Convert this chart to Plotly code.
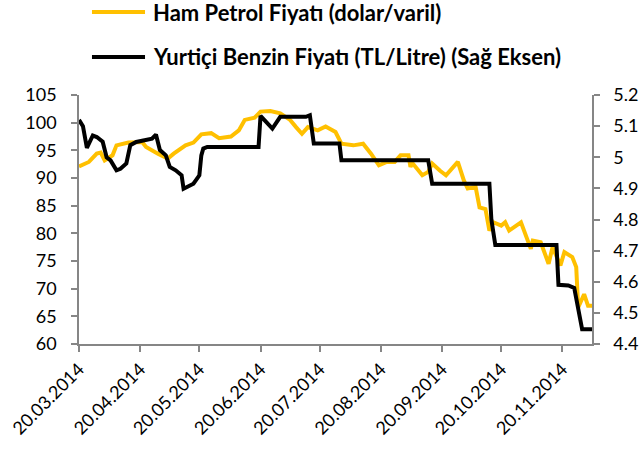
import plotly.graph_objects as go

# Ham Petrol Fiyatı (dolar/varil) - left axis
oil_dates = ["2014-03-20","2014-03-25","2014-03-29","2014-03-31","2014-04-02","2014-04-06","2014-04-08",
             "2014-04-14","2014-04-21","2014-04-23","2014-04-29","2014-05-04","2014-05-07","2014-05-13",
             "2014-05-17","2014-05-21","2014-05-26","2014-05-30","2014-06-05","2014-06-09","2014-06-12",
             "2014-06-17","2014-06-20","2014-06-25","2014-06-30","2014-07-05","2014-07-08","2014-07-11",
             "2014-07-14","2014-07-19","2014-07-23","2014-07-28","2014-07-31","2014-08-06","2014-08-11",
             "2014-08-15","2014-08-19","2014-08-23","2014-08-27","2014-08-30","2014-09-03","2014-09-04",
             "2014-09-05","2014-09-10","2014-09-13","2014-09-15","2014-09-19","2014-09-22","2014-09-28",
             "2014-10-01","2014-10-03","2014-10-07","2014-10-09","2014-10-12","2014-10-14","2014-10-16",
             "2014-10-20","2014-10-22","2014-10-24","2014-10-30","2014-11-04","2014-11-05","2014-11-09",
             "2014-11-13","2014-11-15","2014-11-19","2014-11-21","2014-11-25","2014-11-27","2014-11-28",
             "2014-12-01","2014-12-03","2014-12-05"]
oil_values = [92.1,92.9,94.4,94.6,93.2,94.1,95.9,
              96.4,96.5,95.6,94.4,93.5,94.4,95.9,
              96.4,97.9,98.1,97.2,97.5,98.6,100.5,
              100.9,102.0,102.1,101.7,100.5,99.2,98.0,
              99.2,98.6,99.3,98.3,96.2,95.9,96.2,
              94.4,92.3,92.9,92.9,94.1,94.1,92.0,
              92.7,90.5,91.1,92.6,91.3,90.5,92.9,
              89.6,88.1,88.4,84.7,84.4,80.5,82.0,
              81.4,82.0,80.5,82.0,77.2,78.7,78.4,
              74.5,77.5,74.2,76.6,75.7,73.9,66.6,
              69.0,66.9,66.9]

# Yurtiçi Benzin Fiyatı (TL/Litre) - right axis
fuel_dates = ["2014-03-20","2014-03-22","2014-03-24","2014-03-27","2014-03-29","2014-04-01","2014-04-03",
              "2014-04-05","2014-04-08","2014-04-10","2014-04-13","2014-04-15","2014-04-18","2014-04-23",
              "2014-04-26","2014-04-28","2014-04-30","2014-05-03","2014-05-05","2014-05-08","2014-05-11",
              "2014-05-12","2014-05-15","2014-05-17","2014-05-20","2014-05-21","2014-05-22","2014-05-24",
              "2014-06-19","2014-06-20","2014-06-26","2014-06-30","2014-07-13","2014-07-15","2014-07-17",
              "2014-07-30","2014-07-31","2014-09-13","2014-09-15","2014-10-14","2014-10-15","2014-10-17",
              "2014-11-17","2014-11-18","2014-11-23","2014-11-26","2014-11-30","2014-12-05"]
fuel_values = [5.12,5.10,5.03,5.07,5.065,5.05,5.00,
               4.99,4.958,4.963,4.98,5.039,5.049,5.055,
               5.06,5.073,5.023,5.006,4.969,4.958,4.942,
               4.899,4.91,4.915,4.942,5.006,5.028,5.033,
               5.033,5.133,5.092,5.13,5.13,5.135,5.044,
               5.044,4.99,4.99,4.915,4.915,4.80,4.718,
               4.718,4.59,4.588,4.58,4.447,4.447]

tick_dates = ["2014-03-20","2014-04-20","2014-05-20","2014-06-20","2014-07-20",
              "2014-08-20","2014-09-20","2014-10-20","2014-11-20"]
tick_labels = ["20.03.2014","20.04.2014","20.05.2014","20.06.2014","20.07.2014",
               "20.08.2014","20.09.2014","20.10.2014","20.11.2014"]

series_names = ["Ham Petrol Fiyatı (dolar/varil)", "Yurtiçi Benzin Fiyatı (TL/Litre) (Sağ Eksen)"]
series_colors = ["#FFC000", "#000000"]

FONT = "Lato"
AXCOL = "#868686"

fig = go.Figure()
fig.add_trace(go.Scatter(x=oil_dates, y=oil_values, mode="lines", name=series_names[0],
                         line=dict(color=series_colors[0], width=4)))
fig.add_trace(go.Scatter(x=fuel_dates, y=fuel_values, mode="lines", yaxis="y2",
                         name=series_names[1], line=dict(color=series_colors[1], width=4)))

# legend drawn manually above the plot (keeps plot area fixed)
legend_rows_y = [1.333, 1.153]
for name, col, ly in zip(series_names, series_colors, legend_rows_y):
    fig.add_shape(type="line", xref="paper", yref="paper", x0=0.0253, x1=0.1287, y0=ly, y1=ly,
                  line=dict(color=col, width=4))
    fig.add_annotation(xref="paper", yref="paper", x=0.1403, y=ly, xanchor="left", yanchor="middle",
                       text="<b>" + name + "</b>", showarrow=False,
                       font=dict(family=FONT, size=22, color="black"))

axis_common = dict(showgrid=False, zeroline=False, showline=True, linecolor=AXCOL, linewidth=1.5,
                   ticks="outside", tickcolor=AXCOL, ticklen=6, tickwidth=1.5,
                   tickfont=dict(family=FONT, size=18, color="black"), automargin=False,
                   ticklabeloverflow="allow")

fig.update_layout(
    width=640, height=450,
    margin=dict(l=79, r=48, t=95, b=106),
    paper_bgcolor="white", plot_bgcolor="white",
    font=dict(family=FONT, size=18, color="black"),
    showlegend=False,
    xaxis=dict(type="date", range=["2014-03-20", "2014-12-05"],
               tickvals=tick_dates, ticktext=tick_labels, tickangle=-45, **axis_common),
    yaxis=dict(range=[60, 105], dtick=5, ticklabelstandoff=11, **axis_common),
    yaxis2=dict(range=[4.4, 5.2], dtick=0.1, overlaying="y", side="right",
                ticklabelstandoff=10, **axis_common),
)

fig.write_html("out.html", config={"displayModeBar": False},
               post_script="document.body.style.margin='0';")
